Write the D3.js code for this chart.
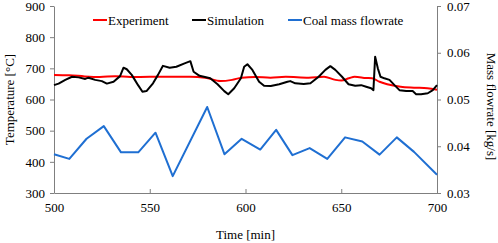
<!DOCTYPE html>
<html>
<head>
<meta charset="utf-8">
<script src="https://cdn.jsdelivr.net/npm/d3@7"></script>
<style>
  body { margin: 0; background: #fff; }
  svg text { font-family: "Liberation Serif", "Times New Roman", serif; fill: #000; }
</style>
</head>
<body>
<div id="chart"></div>
<script>
// experiment temperature [min, °C]
var expTime = [500, 508, 516, 524, 532, 540, 550, 560, 571, 579, 587, 593, 598, 605, 613, 621, 633, 641, 647, 650, 654, 657, 663, 666, 670, 674, 681, 688, 695, 700];
var expTemp = [679, 678, 674, 672, 675, 672, 673, 673, 673, 670, 659, 663, 670, 672, 670, 673, 670, 673, 663, 661, 668, 673, 669, 668, 657, 649, 641, 638, 636, 631];

// simulation temperature [min, °C]
var simTime = [500, 502.4, 505.9, 509.4, 512.9, 516.3, 518, 521.5, 525, 527.6, 531.1, 534.5, 536.3, 538, 540.6, 542.2, 543.9, 546.2, 548.3, 551.7, 554.3, 556.9, 560.4, 563.9, 568.2, 571.2, 572.9, 576, 581.6, 585.4, 588.9, 591, 594.1, 597.6, 599.3, 601, 603.6, 607.1, 609.7, 613.2, 617.6, 621.9, 623.4, 626, 630.4, 633.9, 638.2, 641.7, 644.3, 646.9, 650.4, 653.8, 657.3, 660.4, 663, 665.6, 666.8, 667.7, 669.1, 670.5, 672.5, 675.2, 677.8, 680.4, 683.9, 687.3, 689.1, 691.7, 695.2, 697.8, 700];
var simTemp = [646, 651, 663, 673, 671, 666, 670, 663, 659, 651, 657, 675, 702, 697, 679, 663, 646, 625, 627, 652, 679, 708, 702, 705, 716, 723, 689, 676, 668, 649, 627, 617, 636, 668, 705, 713, 695, 657, 644, 643, 649, 657, 659, 652, 650, 652, 673, 695, 707, 695, 673, 649, 644, 646, 641, 636, 630, 737, 700, 673, 668, 663, 646, 630, 627, 627, 617, 617, 620, 630, 646];

// coal mass flowrate [min, kg/s]
var coalTime = [500, 508, 517, 526, 535, 544, 553, 562, 580, 589, 598, 607.7, 616, 624.5, 633.5, 642.7, 652, 661, 670, 679, 688, 700];
var coalFlow = [0.0383, 0.0373, 0.0416, 0.0443, 0.0387, 0.0387, 0.0429, 0.0336, 0.0484, 0.0383, 0.0416, 0.0393, 0.0435, 0.0381, 0.0396, 0.0373, 0.0419, 0.0410, 0.0382, 0.0419, 0.0388, 0.0339];

var tempTicks = [300, 400, 500, 600, 700, 800, 900];
var flowTicks = [0.03, 0.04, 0.05, 0.06, 0.07];
var timeTicks = [500, 550, 600, 650, 700];

var legendNames = ['Experiment', 'Simulation', 'Coal mass flowrate'];
var colors = ['#ff0000', '#000000', '#1f6fd2'];

var W = 498, H = 243;
var margin = {top: 6, right: 61, bottom: 50, left: 54};
var iw = W - margin.left - margin.right,
    ih = H - margin.top - margin.bottom;

var svg = d3.select('#chart').append('svg')
    .attr('width', W)
    .attr('height', H);

var g = svg.append('g')
    .attr('transform', 'translate(' + margin.left + ',' + margin.top + ')');

var x = d3.scaleLinear().domain([500, 700]).range([0, iw]);
var yL = d3.scaleLinear().domain([300, 900]).range([ih, 0]);
var yR = d3.scaleLinear().domain([0.03, 0.07]).range([ih, 0]);

// axes
var axisColor = '#7f7f7f';
var xAxis = g.append('g')
    .attr('transform', 'translate(0,' + ih + ')')
    .call(d3.axisBottom(x).tickValues(timeTicks).tickSizeInner(-4).tickSizeOuter(0).tickPadding(10).tickFormat(d3.format('d')));
var lAxis = g.append('g')
    .call(d3.axisLeft(yL).tickValues(tempTicks).tickSizeInner(4).tickSizeOuter(0).tickPadding(5).tickFormat(d3.format('d')));
var rAxis = g.append('g')
    .attr('transform', 'translate(' + iw + ',0)')
    .call(d3.axisRight(yR).tickValues(flowTicks).tickSizeInner(4).tickSizeOuter(0).tickPadding(6).tickFormat(d3.format('.2f')));

[xAxis, lAxis, rAxis].forEach(function(a) {
  a.select('.domain').attr('stroke', axisColor).attr('stroke-width', 1);
  a.selectAll('.tick line').attr('stroke', axisColor);
  a.selectAll('.tick text').attr('font-size', 13).attr('fill', '#000')
    .style('font-family', '"Liberation Serif", "Times New Roman", serif');
});

// lines
var tempLine = d3.line()
    .x(function(d) { return x(d[0]); })
    .y(function(d) { return yL(d[1]); });
var flowLine = d3.line()
    .x(function(d) { return x(d[0]); })
    .y(function(d) { return yR(d[1]); });

g.append('path')
    .datum(coalTime.map(function(t, i) { return [t, coalFlow[i]]; }))
    .attr('fill', 'none')
    .attr('stroke', colors[2])
    .attr('stroke-width', 2)
    .attr('stroke-linejoin', 'round')
    .attr('d', flowLine);

g.append('path')
    .datum(expTime.map(function(t, i) { return [t, expTemp[i]]; }))
    .attr('fill', 'none')
    .attr('stroke', colors[0])
    .attr('stroke-width', 2)
    .attr('stroke-linejoin', 'round')
    .attr('d', tempLine.curve(d3.curveMonotoneX));

g.append('path')
    .datum(simTime.map(function(t, i) { return [t, simTemp[i]]; }))
    .attr('fill', 'none')
    .attr('stroke', colors[1])
    .attr('stroke-width', 2)
    .attr('stroke-linejoin', 'round')
    .attr('d', tempLine.curve(d3.curveLinear));

// legend
var legendX = [93, 192, 288];
var legend = svg.selectAll('g.legend')
    .data(legendNames)
  .enter().append('g')
    .attr('class', 'legend')
    .attr('transform', function(d, i) { return 'translate(' + legendX[i] + ',20)'; });

legend.append('line')
    .attr('x1', 0).attr('x2', 14)
    .attr('y1', 0).attr('y2', 0)
    .attr('stroke', function(d, i) { return colors[i]; })
    .attr('stroke-width', 2);

legend.append('text')
    .attr('x', 15)
    .attr('y', 4.5)
    .attr('font-size', 13)
    .text(function(d) { return d; });

// axis titles
svg.append('text')
    .attr('x', margin.left + iw / 2)
    .attr('y', 239)
    .attr('text-anchor', 'middle')
    .attr('font-size', 13)
    .text('Time [min]');

svg.append('text')
    .attr('transform', 'translate(14,' + (margin.top + ih / 2) + ') rotate(-90)')
    .attr('text-anchor', 'middle')
    .attr('font-size', 13)
    .text('Temperature [°C]');

svg.append('text')
    .attr('transform', 'translate(487,' + (margin.top + ih / 2 + 7) + ') rotate(90)')
    .attr('text-anchor', 'middle')
    .attr('font-size', 13)
    .text('Mass flowrate [kg/s]');
</script>
</body>
</html>
